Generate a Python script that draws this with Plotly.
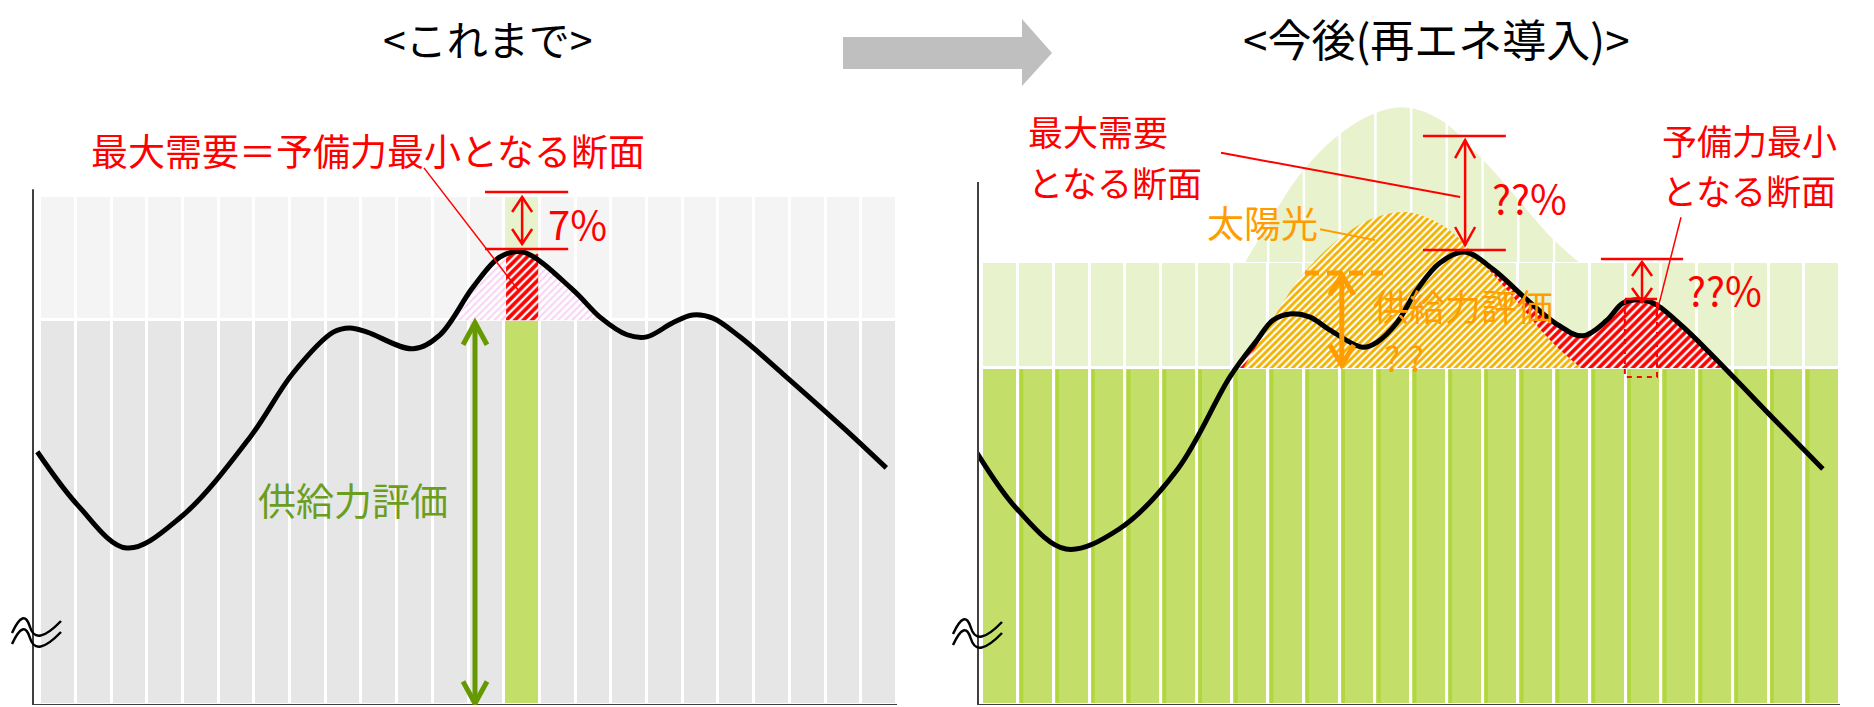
import plotly.graph_objects as go

W, H = 1874, 707
FONT = "Noto Sans CJK JP"

GRAY_LOW = "#e6e6e6"
GRAY_UP = "#f4f4f4"
GREEN = "#c3df6a"
GREEN_LIGHT = "#e8f2cc"
GREEN_STRIPE = "#b2d63e"
GREEN_ARROW = "#669900"
GREEN_TEXT = "#6b9e1f"
RED = "#ff0000"
ORANGE = "#ff9c00"
ORANGE_HATCH = "#f2b200"
PINK = "#f9d2f4"
AXIS = "#404040"
ARROW_GRAY = "#bfbfbf"

# ---------------- data ----------------
hours = list(range(24))
bar_centers = [h + 0.5 for h in hours]

# <これまで>
left_supply = 74.0          # 供給力
left_reserve_top = 97.9     # 供給力 + 予備力 band
left_peak_hour = 13
left_peak_demand = 86.8
left_axis_top = 99.2
left_demand_h = [-0.08, 1.07, 2.42, 3.95, 5.88, 7.08, 8.21, 8.68, 9.16, 10.45, 11.2, 12.13, 12.89,
                 13.53, 14.93, 15.68, 16.44, 16.99, 17.72, 18.28, 18.84, 19.6, 20.8, 22.5, 23.7]
left_demand_v = [48.7, 38.3, 30.2, 36.2, 51.5, 63.8, 71.7, 72.5, 71.7, 68.5, 71.2, 80.4, 86.2,
                 87.1, 79.8, 74.6, 71.2, 70.8, 73.5, 75.0, 74.4, 70.8, 63.7, 53.3, 45.6]
left_excess_h = [11.71, 12.13, 12.89, 13.53, 14.93, 15.85]
left_excess_v = [74.0, 80.4, 86.2, 87.1, 79.8, 74.0]

# <今後(再エネ導入)>
right_supply = 64.8
right_upper_top = 85.2
right_axis_top = 100.6
solar_h = [7.31, 7.98, 8.82, 9.83, 10.87, 11.85, 12.91, 13.87, 14.87, 15.91, 16.75]
solar_capacity_v = [85.2, 92.9, 101.9, 109.2, 113.8, 115.2, 112.5, 106.3, 98.7, 90.4, 85.2]
solar_evaluated_v = [64.8, 72.5, 81.5, 88.8, 93.4, 94.8, 92.1, 85.9, 78.3, 70.0, 64.8]
right_demand_h = [-0.15, 0.97, 2.34, 3.82, 5.47, 6.93, 7.69, 8.13, 8.61, 9.17, 9.73, 10.65, 11.05,
                  11.6, 12.16, 12.80, 13.50, 14.31, 15.15, 16.02, 16.80, 17.48, 17.93, 18.49, 18.88,
                  19.61, 20.36, 21.28, 22.12, 23.52]
right_demand_v = [48.5, 37.7, 30.0, 33.8, 45.4, 63.1, 70.2, 74.0, 75.2, 74.6, 72.1, 68.8, 69.8,
                  73.5, 79.8, 85.0, 87.1, 83.7, 78.5, 73.5, 71.0, 74.0, 77.3, 77.9, 76.9,
                  72.7, 67.7, 61.2, 55.2, 45.4]
right_cross_h = [7.11, 20.85]
right_excess_h = [right_cross_h[0]] + right_demand_h[6:27] + [right_cross_h[1]]
right_excess_v = [right_supply] + right_demand_v[6:27] + [right_supply]

Y_MAX = 119.23
SY = 620 / Y_MAX
SX = {"x": 864 / 24.2, "x2": 862 / 24.12}

fig = go.Figure()

def add(tr, ax):
    tr.update(xaxis=ax, yaxis=ax.replace("x", "y"), showlegend=False, hoverinfo="skip")
    fig.add_trace(tr)

def hatch(size=6, white_share=0.4):
    # coloured base (fillcolor) with white diagonal stripes on top
    return dict(shape="/", fgcolor="white", fgopacity=1, fillmode="overlay", size=size, solidity=white_share)

# ---------- left panel ----------
add(go.Bar(x=bar_centers, y=[left_supply] * 24,
           marker=dict(color=[GREEN if h == left_peak_hour else GRAY_LOW for h in hours],
                       line=dict(color="white", width=3))), "x")
add(go.Bar(x=bar_centers, y=[left_reserve_top - left_supply] * 24, base=left_supply,
           marker=dict(color=[GREEN_LIGHT if h == left_peak_hour else GRAY_UP for h in hours],
                       line=dict(color="white", width=3))), "x")
add(go.Scatter(x=[left_excess_h[0], left_excess_h[-1]], y=[left_supply, left_supply],
               mode="lines", line=dict(width=0)), "x")
add(go.Scatter(x=left_excess_h, y=left_excess_v, mode="lines", fill="tonexty",
               line=dict(width=0, shape="spline"), fillcolor=PINK,
               fillpattern=hatch(5, 0.6)), "x")
add(go.Scatter(x=[left_peak_hour + 0.05, left_peak_hour + 0.05, left_peak_hour + 0.95, left_peak_hour + 0.95],
               y=[left_supply, left_peak_demand, left_peak_demand, left_supply],
               mode="lines", fill="toself", line=dict(width=0), fillcolor=RED,
               fillpattern=hatch(6, 0.38)), "x")
add(go.Scatter(x=left_demand_h, y=left_demand_v, mode="lines",
               line=dict(color="black", width=5, shape="spline")), "x")

# ---------- right panel ----------
add(go.Bar(x=bar_centers, y=[right_supply] * 24,
           marker=dict(color=GREEN, line=dict(color="white", width=3))), "x2")
add(go.Bar(x=bar_centers, y=[right_upper_top - right_supply] * 24, base=right_supply,
           marker=dict(color=GREEN_LIGHT, line=dict(color="white", width=3))), "x2")
sx, sy = [], []
for h in hours[1:]:
    sx += [h + 0.1, h + 0.1, None]
    sy += [0.4, right_supply - 0.3, None]
add(go.Scatter(x=sx, y=sy, mode="lines", line=dict(color=GREEN_STRIPE, width=3.5)), "x2")
add(go.Scatter(x=solar_h, y=solar_capacity_v, mode="lines", fill="toself", fillcolor=GREEN_LIGHT,
               line=dict(color="white", width=3, shape="spline")), "x2")
wx, wy = [], []
for h in hours[1:]:
    wx += [h, h, None]
    wy += [right_upper_top, Y_MAX, None]
add(go.Scatter(x=wx, y=wy, mode="lines", line=dict(color="white", width=2.5)), "x2")
add(go.Scatter(x=[right_excess_h[0], right_excess_h[-1]], y=[right_supply, right_supply],
               mode="lines", line=dict(width=0)), "x2")
add(go.Scatter(x=right_excess_h, y=right_excess_v, mode="lines", fill="tonexty",
               line=dict(width=0, shape="spline"), fillcolor=RED,
               fillpattern=hatch(6, 0.4)), "x2")
add(go.Scatter(x=solar_h, y=solar_evaluated_v, mode="lines", fill="toself", fillcolor=ORANGE_HATCH,
               line=dict(width=0, shape="spline"),
               fillpattern=hatch(5, 0.42)), "x2")
add(go.Scatter(x=right_demand_h, y=right_demand_v, mode="lines",
               line=dict(color="black", width=5, shape="spline")), "x2")

# ---------- shapes ----------
shapes = []

def line(xr, yr, x0, y0, x1, y1, color, w, dash=None):
    d = dict(color=color, width=w)
    if dash:
        d["dash"] = dash
    return dict(type="line", xref=xr, yref=yr, x0=x0, y0=y0, x1=x1, y1=y1, line=d, layer="above")

def varrow(xr, x, ytop, ybot, color, w, hw, hh):
    yr = xr.replace("x", "y")
    dx, dy = hw / SX[xr], hh / SY
    return [
        line(xr, yr, x, ytop, x, ybot, color, w),
        dict(type="path", xref=xr, yref=yr, fillcolor="rgba(0,0,0,0)", line=dict(color=color, width=w),
             path=f"M{x-dx},{ytop-dy} L{x},{ytop} L{x+dx},{ytop-dy}"),
        dict(type="path", xref=xr, yref=yr, fillcolor="rgba(0,0,0,0)", line=dict(color=color, width=w),
             path=f"M{x-dx},{ybot+dy} L{x},{ybot} L{x+dx},{ybot+dy}"),
    ]

def P(x, y):
    return f"{x / W:.5f},{1 - y / H:.5f}"

# axes
shapes.append(line("x domain", "y", 0, 0, 0, left_axis_top, AXIS, 2))
shapes.append(line("x domain", "y", 0, 0, 1, 0, AXIS, 2))
shapes.append(line("x2 domain", "y2", 0, 0, 0, right_axis_top, AXIS, 2))
shapes.append(line("x2 domain", "y2", 0, 0, 1, 0, AXIS, 2))

# left annotations
shapes.append(line("x", "y", 12.46, 98.65, 14.79, 98.65, RED, 2.5))
shapes.append(line("x", "y", 12.46, 87.7, 14.79, 87.7, RED, 2.5))
shapes += varrow("x", 13.5, 97.7, 88.65, RED, 2.5, 10, 15)
shapes.append(line("x", "y", 10.75, 103.3, 13.39, 79.8, RED, 1.5))
shapes += varrow("x", 12.18, 73.5, 0.3, GREEN_ARROW, 5, 12, 22)

# right annotations
shapes.append(line("x2", "y2", 12.33, 109.4, 14.65, 109.4, RED, 2.5))
shapes.append(line("x2", "y2", 12.33, 87.5, 14.65, 87.5, RED, 2.5))
shapes += varrow("x2", 13.51, 108.65, 88.46, RED, 2.5, 10, 18)
shapes.append(line("x2", "y2", 6.68, 106.2, 13.37, 97.7, RED, 2))
shapes.append(line("x2", "y2", 17.31, 85.77, 19.61, 85.77, RED, 2.5))
shapes.append(line("x2", "y2", 17.98, 78.1, 18.88, 78.1, RED, 2.5))
shapes += varrow("x2", 18.46, 85.2, 77.5, RED, 2.5, 10, 14)
shapes.append(line("x2", "y2", 19.55, 93.8, 18.85, 74.8, RED, 1.5))
shapes.append(dict(type="path", xref="x2", yref="y2", fillcolor="rgba(0,0,0,0)",
                   line=dict(color=RED, width=2, dash="5px,5px"),
                   path="M17.98,78.1 L17.98,63.1 L18.88,63.1 L18.88,78.1"))
shapes.append(line("x2", "y2", 9.03, 83.1, 11.21, 83.1, ORANGE, 5, "14px,8px"))
shapes += varrow("x2", 10.06, 82.7, 65.4, ORANGE, 5, 12, 20)
shapes.append(line("x2", "y2", 9.45, 91.5, 10.99, 89.4, ORANGE, 2))

# big gray arrow
shapes.append(dict(type="path", xref="paper", yref="paper", fillcolor=ARROW_GRAY, line=dict(width=0),
                   path="M" + " L".join(P(*p) for p in [(843, 37), (1022, 37), (1022, 19), (1052, 53),
                                                         (1022, 86), (1022, 69), (843, 69)]) + " Z"))
# break marks
for ox, oy in [(0, 0), (941, 1)]:
    for dy in (0, 11):
        pts = [(12, 633), (24, 607), (30, 627), (36, 647), (61, 621)]
        pts = [(x + ox, y + oy + dy) for x, y in pts]
        path = f"M{P(*pts[0])} Q{P(*pts[1])} {P(*pts[2])} Q{P(*pts[3])} {P(*pts[4])}"
        shapes.append(dict(type="path", xref="paper", yref="paper", fillcolor="rgba(0,0,0,0)",
                           line=dict(color="black", width=2.5), path=path))

# ---------- text ----------
ann = []

def T(text, x, y, size, color, xanchor="center"):
    ann.append(dict(text=text, x=x / W, y=1 - y / H, xref="paper", yref="paper", showarrow=False,
                    xanchor=xanchor, yanchor="middle",
                    font=dict(family=FONT, size=size, color=color)))

T("<これまで>", 488, 38, 41, "black")
T("<今後(再エネ導入)>", 1436, 38, 44, "black")
T("最大需要＝予備力最小となる断面", 368, 150, 37, RED)
T("7%", 577, 223, 40, RED)
T("供給力評価", 353, 499, 38, GREEN_TEXT)
T("最大需要", 1026, 130, 35, RED, "left")
T("となる断面", 1026, 181, 35, RED, "left")
T("??%", 1529, 197, 40, RED)
T("予備力最小", 1660, 139, 35, RED, "left")
T("となる断面", 1660, 190, 35, RED, "left")
T("??%", 1724, 289, 40, RED)
T("太陽光", 1262, 222, 37, ORANGE)
T("供給力評価", 1463, 305, 36, ORANGE)
T("? ?", 1404, 357, 34, ORANGE)

ydom = [2 / H, 622 / H]
fig.update_layout(
    width=W, height=H, margin=dict(l=0, r=0, t=0, b=0),
    paper_bgcolor="white", plot_bgcolor="rgba(0,0,0,0)",
    barmode="overlay", bargap=0, showlegend=False,
    xaxis=dict(domain=[33 / W, 897 / W], range=[-0.2, 24], visible=False, anchor="y"),
    yaxis=dict(domain=ydom, range=[0, Y_MAX], visible=False, anchor="x"),
    xaxis2=dict(domain=[978 / W, 1840 / W], range=[-0.12, 24], visible=False, anchor="y2"),
    yaxis2=dict(domain=ydom, range=[0, Y_MAX], visible=False, anchor="x2"),
    shapes=shapes, annotations=ann,
)
fig.write_html("out.html", config={"displayModeBar": False},
               post_script="document.body.style.margin='0';document.body.style.overflow='hidden';")
